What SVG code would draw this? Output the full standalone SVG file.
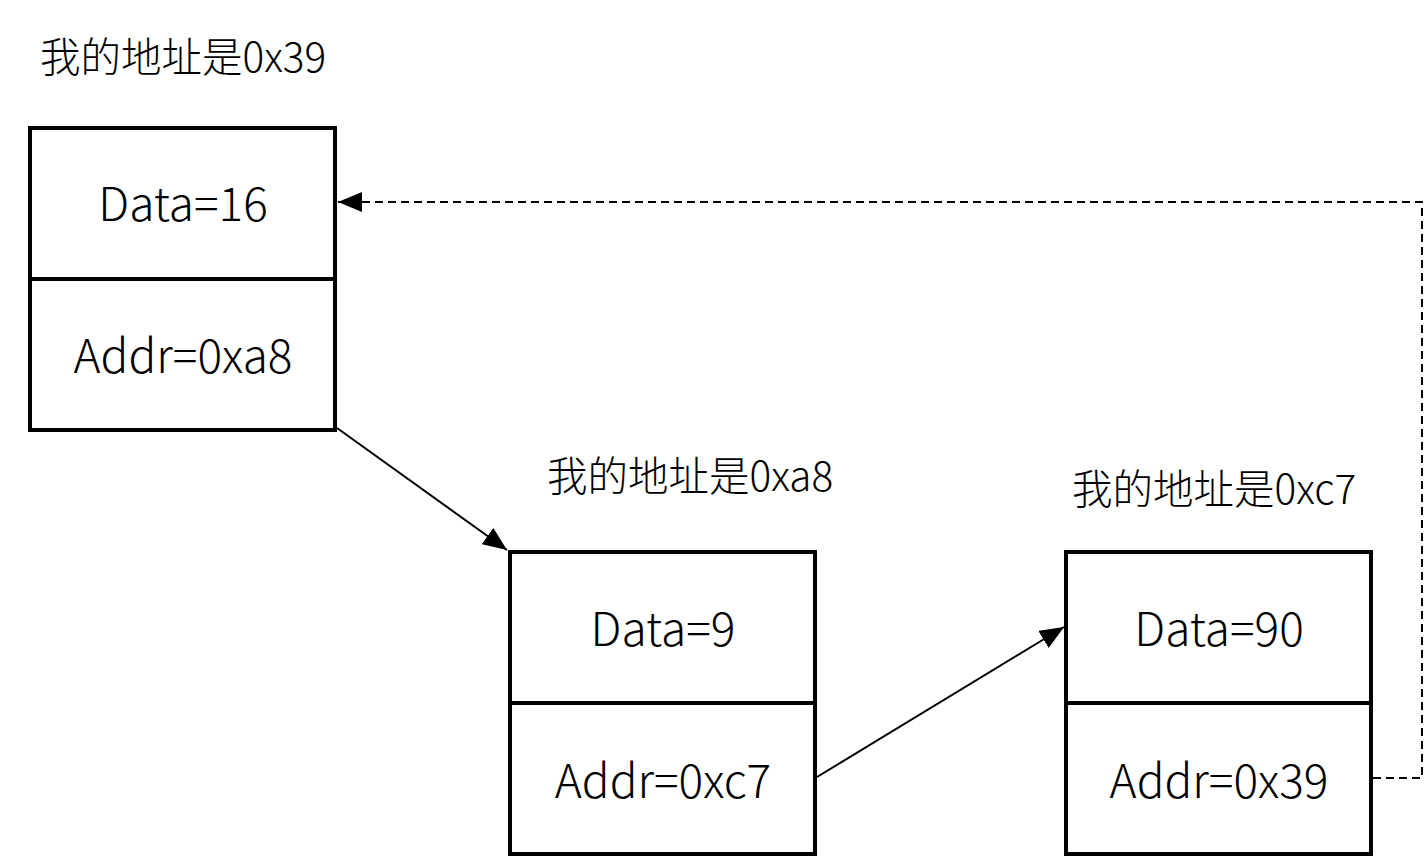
<svg xmlns="http://www.w3.org/2000/svg" width="1425" height="858" viewBox="0 0 1425 858">
<style>
.box{fill:#fff;stroke:#000;stroke-width:4}
.div{stroke:#000;stroke-width:4}
.t{font-family:"Noto Sans CJK SC","Liberation Sans",sans-serif;font-size:46px;font-weight:300;fill:#000;text-anchor:middle}
.lbl{font-family:"Noto Sans CJK SC","Liberation Sans",sans-serif;font-size:40.5px;font-weight:300;fill:#000}
.c{fill:none;stroke:#000;stroke-width:2}
.d{stroke-dasharray:8 5}
</style>
<defs>
<marker id="ah" markerUnits="userSpaceOnUse" markerWidth="26" markerHeight="20" refX="24" refY="10" orient="auto">
<path d="M0,0 L24,10 L0,20 Z" fill="#000"/>
</marker>
</defs>
<g id="connectors">
<line class="c" x1="337" y1="428" x2="507" y2="550" marker-end="url(#ah)"/>
<line class="c" x1="817" y1="777" x2="1064" y2="627" marker-end="url(#ah)"/>
<polyline class="c d" points="1373,778 1422,778 1422,202 338,202" marker-end="url(#ah)"/>
</g>
<g id="node1">
<text class="lbl" x="40" y="72">我的地址是0x39</text>
<rect class="box" x="30" y="128" width="305" height="302"/>
<line class="div" x1="30" y1="279" x2="335" y2="279"/>
<text class="t" x="183" y="221">Data=16</text>
<text class="t" x="183" y="373">Addr=0xa8</text>
</g>
<g id="node2">
<text class="lbl" x="547" y="491">我的地址是0xa8</text>
<rect class="box" x="510" y="552" width="305" height="302"/>
<line class="div" x1="510" y1="703" x2="815" y2="703"/>
<text class="t" x="663" y="646">Data=9</text>
<text class="t" x="663" y="798">Addr=0xc7</text>
</g>
<g id="node3">
<text class="lbl" x="1072" y="504">我的地址是0xc7</text>
<rect class="box" x="1066" y="552" width="305" height="302"/>
<line class="div" x1="1066" y1="703" x2="1371" y2="703"/>
<text class="t" x="1219" y="646">Data=90</text>
<text class="t" x="1219" y="798">Addr=0x39</text>
</g>
</svg>
